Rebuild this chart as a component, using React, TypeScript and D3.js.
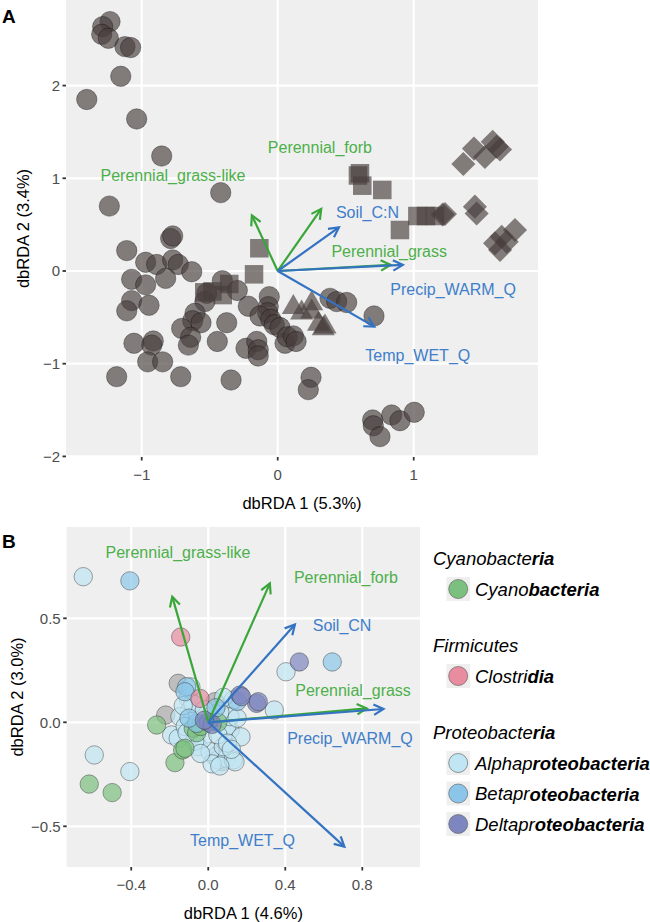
import React from 'react';
import * as d3 from 'd3';

const FONT = '"Liberation Sans", Arial, Helvetica, sans-serif';
const GREEN = '#3AA63A';
const GREEN_TXT = '#4DB04A';
const BLUE = '#3473C2';
const BLUE_TXT = '#3E7ECA';
const PANEL_BG = '#EFEFEF';

// ---------- Panel A data ----------
const circlesA: [number, number][] = [
  [-1.233, 2.69], [-1.287, 2.635], [-1.294, 2.553], [-1.245, 2.51], [-1.123, 2.42], [-1.081, 2.41],
  [-1.154, 2.1], [-1.404, 1.85], [-1.037, 1.64], [-0.853, 1.24], [-0.419, 0.845], [-1.238, 0.7],
  [-0.787, 0.35], [-0.772, 0.378], [-1.11, 0.22], [-0.971, 0.094], [-0.89, 0.07], [-0.772, 0.119],
  [-0.731, 0.07], [-0.632, -0.008], [-1.074, -0.09], [-0.971, -0.15], [-0.824, -0.08], [-1.074, -0.32],
  [-1.11, -0.43], [-0.946, -0.37], [-0.522, -0.24], [-0.535, -0.33], [-0.608, -0.456], [-0.625, -0.536],
  [-0.564, -0.558], [-0.706, -0.62], [-0.64, -0.715], [-0.657, -0.8], [-0.407, -0.105], [-0.297, -0.21],
  [-0.216, -0.38], [-0.375, -0.558], [-0.444, -0.76], [-1.057, -0.78], [-0.915, -0.755], [-0.926, -0.8],
  [-0.956, -0.98], [-0.846, -0.98], [-0.713, -1.14], [-1.184, -1.14], [-0.343, -1.176], [-0.062, -0.277],
  [-0.069, -0.385], [-0.074, -0.45], [-0.13, -0.485], [-0.051, -0.52], [-0.025, -0.58], [0.017, -0.61],
  [-0.233, -0.834], [-0.154, -0.76], [-0.143, -0.85], [-0.143, -0.917], [0.054, -0.78], [0.071, -0.71],
  [0.115, -0.7], [0.135, -0.76], [0.245, -1.147], [0.225, -1.28], [0.385, -0.295], [0.434, -0.33],
  [0.507, -0.34], [0.708, -0.485], [0.698, -1.607], [0.703, -1.67], [0.752, -1.787], [0.838, -1.553],
  [0.899, -1.615], [1.004, -1.524],
];
const squaresA: [number, number][] = [
  [-0.135, 0.245], [-0.174, -0.036], [-0.54, -0.23], [-0.356, -0.14], [-0.404, -0.26], [-0.48, -0.22],
  [0.605, 1.054], [0.59, 1.03], [0.622, 0.92], [0.769, 0.874], [0.899, 0.442], [1.027, 0.593],
  [1.09, 0.593], [1.157, 0.593],
];
const diamondsA: [number, number][] = [
  [1.213, 0.61], [1.23, 0.615], [1.365, 1.154], [1.443, 1.32], [1.524, 1.23], [1.581, 1.395],
  [1.61, 1.34], [1.635, 1.31], [1.45, 0.694], [1.463, 0.62], [1.745, 0.442], [1.647, 0.37],
  [1.598, 0.3], [1.684, 0.316], [1.635, 0.227],
];
const trianglesA: [number, number][] = [
  [0.115, -0.37], [0.176, -0.43], [0.25, -0.33], [0.25, -0.42], [0.3, -0.55], [0.335, -0.6], [0.348, -0.58],
];

type Arrow = { name: string; kind: 'veg' | 'env'; x: number; y: number; lx: number; ly: number };
const arrowsA: Arrow[] = [
  { name: 'Perennial_grass-like', kind: 'veg', x: -0.19, y: 0.6, lx: -0.77, ly: 1.03 },
  { name: 'Perennial_forb', kind: 'veg', x: 0.32, y: 0.67, lx: 0.31, ly: 1.33 },
  { name: 'Soil_C:N', kind: 'env', x: 0.45, y: 0.47, lx: 0.66, ly: 0.63 },
  { name: 'Perennial_grass', kind: 'veg', x: 0.83, y: 0.065, lx: 0.82, ly: 0.21 },
  { name: 'Precip_WARM_Q', kind: 'env', x: 0.92, y: 0.065, lx: 1.29, ly: -0.205 },
  { name: 'Temp_WET_Q', kind: 'env', x: 0.71, y: -0.6, lx: 1.03, ly: -0.91 },
];
const xTicksA = [-1, 0, 1];
const yTicksA = [-2, -1, 0, 1, 2];

// ---------- Panel B data ----------
const groupNames = ['Cyanobacteria', 'Clostridia', 'Alphaproteobacteria', 'Betaproteobacteria', 'Deltaproteobacteria', 'Other'];
const groupColors = ['#7CC07F', '#E88C9F', '#C0E6F3', '#8BC6EA', '#7E86BF', '#A9A9A9'];

const otherB: [number, number][] = [[-0.156, 0.1875], [-0.221, 0.035], [0.035, 0.099], [0.052, -0.157], [0.01, 0.03], [0.07, -0.19]];
const alphaB: [number, number][] = [
  [-0.649, 0.7], [0.404, 0.243], [-0.592, -0.157], [-0.407, -0.237], [0.343, 0.059], [-0.19, -0.061],
  [-0.156, -0.077], [-0.052, -0.117], [0.035, -0.165], [0.052, -0.181], [0.096, -0.173], [0.13, -0.181],
  [0.009, -0.141], [0.078, -0.117], [0.113, -0.037], [0.13, 0.107], [-0.104, 0.115], [-0.095, 0.059],
  [0.096, -0.021], [0.113, 0.027], [-0.147, 0.027], [0.139, -0.19], [-0.12, -0.02], [0.06, 0.05],
  [-0.03, -0.08], [0.05, -0.06], [-0.08, 0.09], [0.17, -0.07], [-0.02, 0.06], [-0.07, -0.09],
  [0.02, -0.2], [0.1, -0.1], [-0.11, -0.05], [-0.13, 0.08], [0.08, 0.12], [0.15, 0.02],
  [-0.04, -0.15], [0.06, -0.21], [-0.09, 0.17], [0.12, -0.13],
];
const betaB: [number, number][] = [[-0.407, 0.68], [0.644, 0.29], [-0.112, 0.171], [-0.121, 0.147], [-0.06, -0.005], [-0.1, 0.02], [0.04, 0.07], [0.15, 0.1]];
const deltaB: [number, number][] = [[0.473, 0.29], [0.251, 0.091], [0.165, 0.131], [0.173, 0.123], [0.26, 0.099], [0.0, 0.0], [0.02, -0.01], [-0.02, 0.01]];
const cyanoB: [number, number][] = [[-0.268, -0.013], [-0.618, -0.297], [-0.499, -0.338], [-0.173, -0.194], [-0.133, -0.133], [-0.121, -0.125], [-0.078, -0.029], [-0.06, -0.05], [-0.04, -0.02], [0.05, 0.0]];
const clostB: [number, number][] = [[-0.143, 0.41], [-0.043, 0.115]];

const arrowsB: Arrow[] = [
  { name: 'Perennial_grass-like', kind: 'veg', x: -0.187, y: 0.604, lx: -0.157, ly: 0.814 },
  { name: 'Perennial_forb', kind: 'veg', x: 0.32, y: 0.668, lx: 0.715, ly: 0.694 },
  { name: 'Soil_CN', kind: 'env', x: 0.45, y: 0.47, lx: 0.695, ly: 0.464 },
  { name: 'Perennial_grass', kind: 'veg', x: 0.823, y: 0.067, lx: 0.752, ly: 0.155 },
  { name: 'Precip_WARM_Q', kind: 'env', x: 0.91, y: 0.064, lx: 0.736, ly: -0.08 },
  { name: 'Temp_WET_Q', kind: 'env', x: 0.707, y: -0.598, lx: 0.178, ly: -0.566 },
];
const xTicksB = [-0.4, 0, 0.4, 0.8];
const yTicksB = [-0.5, 0, 0.5];

// legend structure: phylum title, then [class, [normal part, bold part]]
const legendPhyla: { title: [string, string]; items: { group: number; parts: [string, string] }[] }[] = [
  { title: ['Cyanobacte', 'ria'], items: [{ group: 0, parts: ['Cyano', 'bacteria'] }] },
  { title: ['Firmicutes', ''], items: [{ group: 1, parts: ['Clostri', 'dia'] }] },
  {
    title: ['Proteobacte', 'ria'],
    items: [
      { group: 2, parts: ['Alphap', 'roteobacteria'] },
      { group: 3, parts: ['Betapr', 'oteobacteria'] },
      { group: 4, parts: ['Deltapr', 'oteobacteria'] },
    ],
  },
];

const fmt = (v: number, d: number) => (v < 0 ? '\u2212' : '') + Math.abs(v).toFixed(d);

function ArrowMark({ x0, y0, x1, y1, color }: { x0: number; y0: number; x1: number; y1: number; color: string }) {
  const ang = Math.atan2(y1 - y0, x1 - x0);
  const L = 11;
  const a = (28 * Math.PI) / 180;
  const p1 = [x1 - L * Math.cos(ang - a), y1 - L * Math.sin(ang - a)];
  const p2 = [x1 - L * Math.cos(ang + a), y1 - L * Math.sin(ang + a)];
  return (
    <g stroke={color} strokeWidth={2.2} fill="none" strokeLinecap="butt" strokeLinejoin="miter">
      <line x1={x0} y1={y0} x2={x1} y2={y1} />
      <path d={`M${p1[0]},${p1[1]}L${x1},${y1}L${p2[0]},${p2[1]}`} />
    </g>
  );
}

function Frame({
  x, y, xTicks, yTicks, xd, yd, xTitle, yTitle, yTitleX,
}: {
  x: d3.ScaleLinear<number, number>; y: d3.ScaleLinear<number, number>;
  xTicks: number[]; yTicks: number[]; xd: number; yd: number; xTitle: string; yTitle: string; yTitleX: number;
}) {
  const [x0, x1] = x.range();
  const [yb, yt] = y.range();
  return (
    <g>
      <rect x={x0} y={yt} width={x1 - x0} height={yb - yt} fill={PANEL_BG} />
      {xTicks.map((t) => (
        <line key={'gx' + t} x1={x(t)} x2={x(t)} y1={yt} y2={yb} stroke="#fff" strokeWidth={2.2} />
      ))}
      {yTicks.map((t) => (
        <line key={'gy' + t} x1={x0} x2={x1} y1={y(t)} y2={y(t)} stroke="#fff" strokeWidth={2.2} />
      ))}
      {xTicks.map((t) => (
        <g key={'tx' + t}>
          <line x1={x(t)} x2={x(t)} y1={yb} y2={yb + 3.5} stroke="#333" strokeWidth={1.8} />
          <text x={x(t)} y={yb + 17} textAnchor="middle" dominantBaseline="central" fontSize={15} fill="#4D4D4D" fontFamily={FONT}>
            {fmt(t, xd)}
          </text>
        </g>
      ))}
      {yTicks.map((t) => (
        <g key={'ty' + t}>
          <line x1={x0 - 3.5} x2={x0} y1={y(t)} y2={y(t)} stroke="#333" strokeWidth={1.8} />
          <text x={x0 - 6} y={y(t)} textAnchor="end" dominantBaseline="central" fontSize={15} fill="#4D4D4D" fontFamily={FONT}>
            {fmt(t, yd)}
          </text>
        </g>
      ))}
      <text x={(x0 + x1) / 2} y={yb + 46} textAnchor="middle" dominantBaseline="central" fontSize={16.5} fill="#000" fontFamily={FONT}>
        {xTitle}
      </text>
      <text
        transform={`translate(${yTitleX},${(yt + yb) / 2}) rotate(-90)`}
        textAnchor="middle"
        dominantBaseline="central"
        fontSize={16.5}
        fill="#000"
        fontFamily={FONT}
      >
        {yTitle}
      </text>
    </g>
  );
}

function Arrows({ x, y, arrows }: { x: d3.ScaleLinear<number, number>; y: d3.ScaleLinear<number, number>; arrows: Arrow[] }) {
  return (
    <g>
      {arrows.map((a) => (
        <ArrowMark key={a.name} x0={x(0)} y0={y(0)} x1={x(a.x)} y1={y(a.y)} color={a.kind === 'veg' ? GREEN : BLUE} />
      ))}
      {arrows.map((a) => (
        <text
          key={'l' + a.name}
          x={x(a.lx)}
          y={y(a.ly)}
          textAnchor="middle"
          dominantBaseline="central"
          fontSize={16}
          fill={a.kind === 'veg' ? GREEN_TXT : BLUE_TXT}
          fontFamily={FONT}
        >
          {a.name}
        </text>
      ))}
    </g>
  );
}

export default function App() {
  // Panel A scales
  const xA = d3.scaleLinear().domain([-1.5566, 1.914]).range([66, 538]);
  const yA = d3.scaleLinear().domain([-2.0065, 2.923]).range([457, 0]);
  // Panel B scales
  const xB = d3.scaleLinear().domain([-0.7351, 1.0997]).range([66.7, 420]);
  const yB = d3.scaleLinear().domain([-0.6957, 0.9389]).range([867, 527]);

  const fillA = 'rgba(72,62,60,0.66)';
  const sq = 18.5;
  const tri = d3.symbol().type(d3.symbolTriangle).size(230)();

  const groupsB: { data: [number, number][]; g: number }[] = [
    { data: otherB, g: 5 },
    { data: alphaB, g: 2 },
    { data: cyanoB, g: 0 },
    { data: betaB, g: 3 },
    { data: clostB, g: 1 },
    { data: deltaB, g: 4 },
  ];

  // legend layout
  let ly = 558;
  const legendRows: React.ReactNode[] = [];
  legendPhyla.forEach((ph, pi) => {
    legendRows.push(
      <text key={'pt' + pi} x={433} y={ly} dominantBaseline="central" fontSize={18.5} fontStyle="italic" fill="#000" fontFamily={FONT}>
        {ph.title[0]}
        <tspan fontWeight="bold">{ph.title[1]}</tspan>
      </text>
    );
    ly += 31;
    ph.items.forEach((it, ii) => {
      legendRows.push(
        <g key={'pi' + pi + '_' + ii}>
          <rect x={446.5} y={ly - 12} width={23.5} height={24} fill={PANEL_BG} />
          <circle cx={458.2} cy={ly} r={9.5} fill={groupColors[it.group]} stroke="#555" strokeWidth={0.6} />
          <text x={475} y={ly} dominantBaseline="central" fontSize={18.5} fontStyle="italic" fill="#000" fontFamily={FONT}>
            {it.parts[0]}
            <tspan fontWeight="bold">{it.parts[1]}</tspan>
          </text>
        </g>
      );
      ly += ii < ph.items.length - 1 ? 30.5 : 0;
    });
    ly += 56;
  });

  return (
    <svg width={650} height={922} style={{ position: 'absolute', left: 0, top: 0, background: '#fff' }} fontFamily={FONT}>
      {/* Panel A */}
      <Frame x={xA} y={yA} xTicks={xTicksA} yTicks={yTicksA} xd={0} yd={0} xTitle="dbRDA 1 (5.3%)" yTitle="dbRDA 2 (3.4%)" yTitleX={23} />
      <g>
        {circlesA.map((p, i) => (
          <circle key={'ca' + i} cx={xA(p[0])} cy={yA(p[1])} r={10.2} fill={fillA} stroke="rgba(0,0,0,0.45)" strokeWidth={0.7} />
        ))}
        {squaresA.map((p, i) => (
          <rect key={'sa' + i} x={xA(p[0]) - sq / 2} y={yA(p[1]) - sq / 2} width={sq} height={sq} fill={fillA} />
        ))}
        {diamondsA.map((p, i) => (
          <rect
            key={'da' + i}
            x={-8.5}
            y={-8.5}
            width={17}
            height={17}
            transform={`translate(${xA(p[0])},${yA(p[1])}) rotate(45)`}
            fill={fillA}
          />
        ))}
        {trianglesA.map((p, i) => (
          <path key={'ta' + i} d={tri || ''} transform={`translate(${xA(p[0])},${yA(p[1]) + 2})`} fill={fillA} />
        ))}
      </g>
      <Arrows x={xA} y={yA} arrows={arrowsA} />
      <text x={2} y={16} dominantBaseline="central" fontSize={19} fontWeight="bold" fontFamily={FONT}>A</text>

      {/* Panel B */}
      <Frame x={xB} y={yB} xTicks={xTicksB} yTicks={yTicksB} xd={1} yd={1} xTitle="dbRDA 1 (4.6%)" yTitle="dbRDA 2 (3.0%)" yTitleX={17} />
      <g>
        {groupsB.map((gr) =>
          gr.data.map((p, i) => (
            <circle
              key={'b' + gr.g + '_' + i}
              cx={xB(p[0])}
              cy={yB(p[1])}
              r={9.2}
              fill={groupColors[gr.g]}
              fillOpacity={0.7}
              stroke="rgba(40,40,40,0.6)"
              strokeWidth={0.7}
            />
          ))
        )}
      </g>
      <Arrows x={xB} y={yB} arrows={arrowsB} />
      <text x={2} y={541} dominantBaseline="central" fontSize={19} fontWeight="bold" fontFamily={FONT}>B</text>

      {legendRows}
    </svg>
  );
}
